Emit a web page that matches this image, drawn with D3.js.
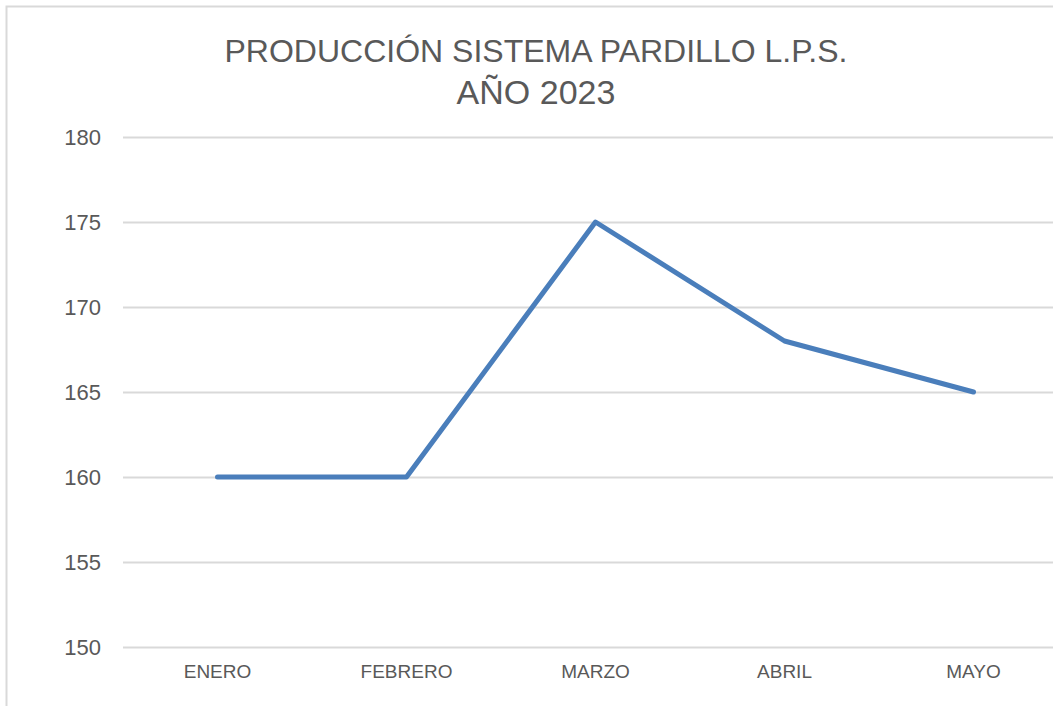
<!DOCTYPE html>
<html>
<head>
<meta charset="utf-8">
<script src="https://cdn.jsdelivr.net/npm/d3@7"></script>
<style>
  body { margin: 0; background: #fff; overflow: hidden; }
  text { font-family: "Liberation Sans", Arial, sans-serif; fill: #595959; }
</style>
</head>
<body>
<div id="chart"></div>
<script>
// data
var months = ["ENERO", "FEBRERO", "MARZO", "ABRIL", "MAYO"];
var produccion = [160, 160, 175, 168, 165];
var yTicks = [150, 155, 160, 165, 170, 175, 180];
var titleLines = ["PRODUCCIÓN SISTEMA PARDILLO L.P.S.", "AÑO 2023"];

var width = 1053;
var height = 706;
var margin = {top: 137, left: 123};
var plotW = 945, plotH = 510;

var svg = d3.select("#chart")
    .append("svg")
    .attr("width", width)
    .attr("height", height);

// outer chart frame (runs off the right/bottom of the picture)
svg.append("rect")
    .attr("x", 6.5).attr("y", 6.5)
    .attr("width", 1100).attr("height", 800)
    .attr("fill", "none")
    .attr("stroke", "#d9d9d9")
    .attr("stroke-width", 2);

// title
svg.selectAll(".title")
    .data(titleLines)
    .enter()
    .append("text")
    .attr("class", "title")
    .attr("x", 536)
    .attr("y", function (d, i) { return 62 + i * 42; })
    .attr("text-anchor", "middle")
    .style("font-size", function (d, i) { return i == 0 ? "32px" : "34px"; })
    .text(function (d) { return d; });

var x = d3.scaleBand()
    .domain(months)
    .range([margin.left, margin.left + plotW]);

var y = d3.scaleLinear()
    .domain([150, 180])
    .range([margin.top + plotH, margin.top]);

// gridlines
var yAxis = d3.axisLeft(y)
    .tickValues(yTicks)
    .tickSize(-plotW)
    .tickPadding(22);

var gy = svg.append("g")
    .attr("transform", "translate(" + margin.left + ",0)")
    .call(yAxis);
gy.select(".domain").remove();
gy.selectAll(".tick line")
    .attr("stroke", "#d9d9d9")
    .attr("stroke-width", 2);
gy.selectAll(".tick text")
    .style("font-size", "22px")
    .attr("fill", "#595959");

// x labels
var xAxis = d3.axisBottom(x).tickSize(0).tickPadding(18);
var gx = svg.append("g")
    .attr("transform", "translate(0," + (margin.top + plotH) + ")")
    .call(xAxis);
gx.select(".domain").remove();
gx.selectAll(".tick text")
    .style("font-size", "19px")
    .attr("fill", "#595959");

// the line
var line = d3.line()
    .x(function (d, i) { return x(months[i]) + x.bandwidth() / 2; })
    .y(function (d) { return y(d); });

svg.append("path")
    .datum(produccion)
    .attr("d", line)
    .attr("fill", "none")
    .attr("stroke", "#4a7ebb")
    .attr("stroke-width", 5)
    .attr("stroke-linejoin", "round")
    .attr("stroke-linecap", "round");
</script>
</body>
</html>
